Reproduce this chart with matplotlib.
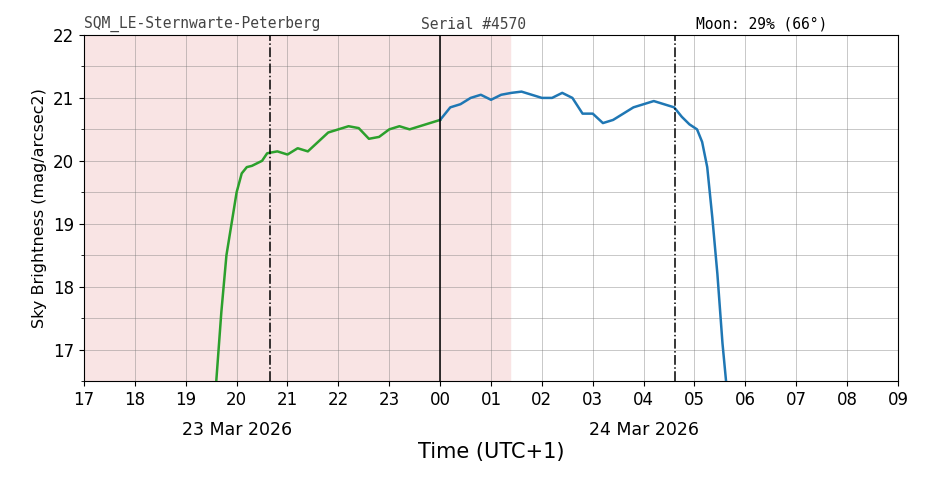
import matplotlib
matplotlib.use("Agg")
import matplotlib.pyplot as plt
from matplotlib.ticker import MultipleLocator

# hours since midnight of 23 Mar (24 = 00:00 on 24 Mar)
green_t = [19.6, 19.7, 19.8, 19.9, 20.0, 20.1, 20.2, 20.3, 20.5, 20.6, 20.8, 21.0,
           21.2, 21.4, 21.6, 21.8, 22.0, 22.2, 22.4, 22.6, 22.8, 23.0, 23.2, 23.4,
           23.6, 23.8, 24.0]
green_v = [16.5, 17.6, 18.5, 19.0, 19.5, 19.8, 19.9, 19.92, 20.0, 20.12, 20.15, 20.1,
           20.2, 20.15, 20.3, 20.45, 20.5, 20.55, 20.52, 20.35, 20.38, 20.5, 20.55, 20.5,
           20.55, 20.6, 20.65]
blue_t = [24.0, 24.2, 24.4, 24.6, 24.8, 25.0, 25.2, 25.4, 25.6, 25.8, 26.0, 26.2,
          26.4, 26.6, 26.8, 27.0, 27.2, 27.4, 27.6, 27.8, 28.0, 28.2, 28.4, 28.6,
          28.75, 28.9, 29.05, 29.15, 29.25, 29.35, 29.45, 29.55, 29.62]
blue_v = [20.65, 20.85, 20.9, 21.0, 21.05, 20.97, 21.05, 21.08, 21.1, 21.05, 21.0, 21.0,
          21.08, 21.0, 20.75, 20.75, 20.6, 20.65, 20.75, 20.85, 20.9, 20.95, 20.9, 20.85,
          20.7, 20.58, 20.5, 20.3, 19.9, 19.1, 18.2, 17.1, 16.5]
night_span = (17.0, 25.37)
twilight_lines = [20.66, 28.62]
tick_hours = list(range(17, 34))
tick_labels = [f"{h % 24:02d}" for h in tick_hours]
dates = [(20.0, "23 Mar 2026"), (28.0, "24 Mar 2026")]

fig = plt.figure(figsize=(9.26, 4.88), dpi=100)
ax = fig.add_axes([84 / 926, 1 - 381 / 488, 814 / 926, 346 / 488])

ax.axvspan(*night_span, color="#f9e4e4", zorder=0)
ax.plot(green_t, green_v, color="#2ca02c", lw=1.8, zorder=3)
ax.plot(blue_t, blue_v, color="#1f77b4", lw=1.8, zorder=3)
for x in twilight_lines:
    ax.axvline(x, color="black", ls="-.", lw=1.1, zorder=4)
ax.axvline(24, color="black", lw=1.1, zorder=4)

ax.set_xlim(17, 33)
ax.set_ylim(16.5, 22)
ax.set_xticks(tick_hours)
ax.set_xticklabels(tick_labels, fontsize=12)
ax.yaxis.set_major_locator(MultipleLocator(1))
ax.yaxis.set_minor_locator(MultipleLocator(0.5))
ax.tick_params(axis="y", labelsize=12)
ax.grid(True, which="both", color="#777777", lw=0.4, alpha=0.7)
ax.set_ylabel("Sky Brightness (mag/arcsec2)", fontsize=11.5)
ax.set_xlabel("Time (UTC+1)", fontsize=15, labelpad=24)

for x, lab in dates:
    ax.text(x, -0.115, lab, transform=ax.get_xaxis_transform(), ha="center", va="top", fontsize=12.5)

ax.text(0.0, 1.01, "SQM_LE-Sternwarte-Peterberg", transform=ax.transAxes,
        family="DejaVu Sans Mono", fontsize=10.5, color="#444444", va="bottom")
ax.text(0.414, 1.01, "Serial #4570", transform=ax.transAxes,
        family="DejaVu Sans Mono", fontsize=10.5, color="#444444", va="bottom")
ax.text(0.752, 1.01, "Moon: 29% (66°)", transform=ax.transAxes,
        family="DejaVu Sans Mono", fontsize=10.5, color="black", va="bottom")

fig.savefig("out.png", dpi=100)
